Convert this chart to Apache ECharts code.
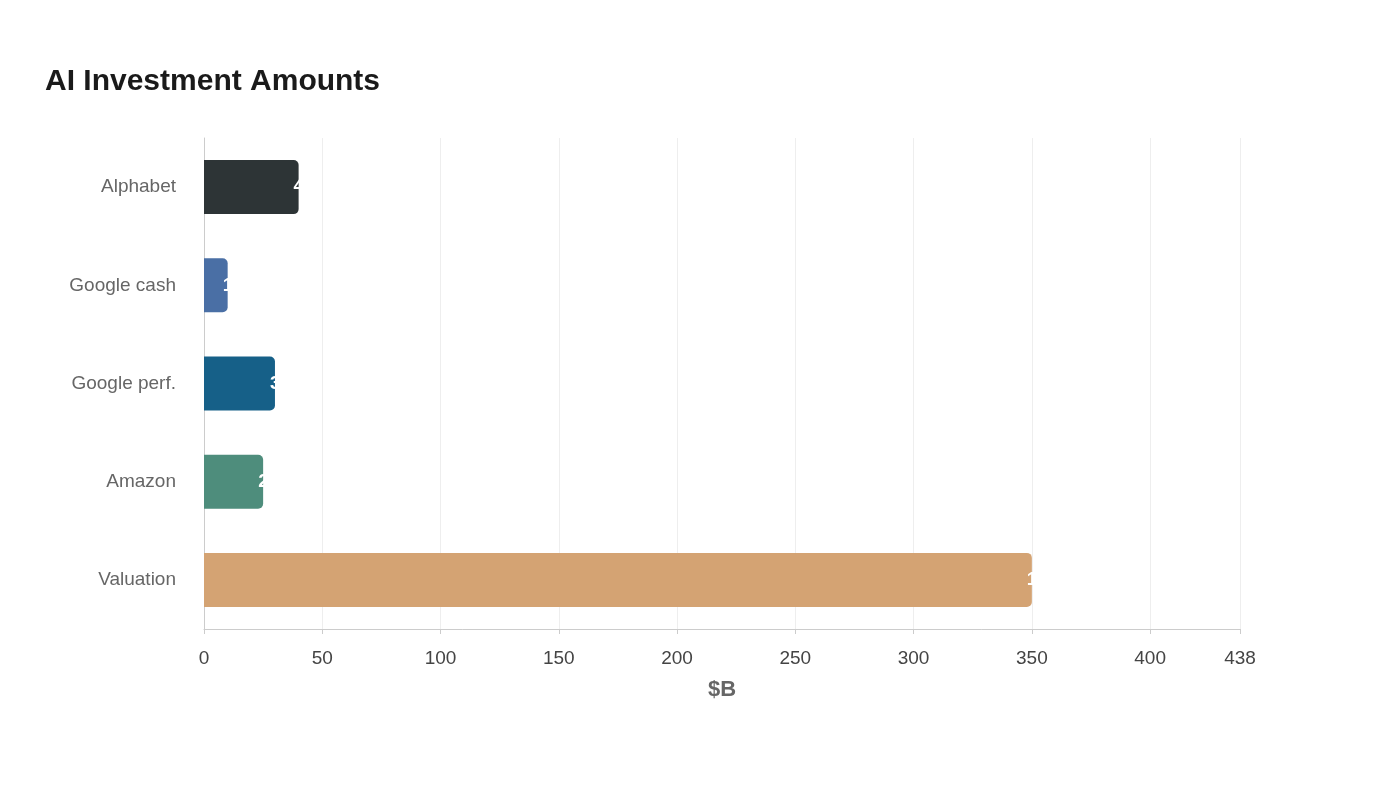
<!DOCTYPE html><html><head><meta charset="utf-8"><script src="https://cdn.jsdelivr.net/npm/echarts@6/dist/echarts.min.js"></script></head><body style="margin:0"><div id="c" style="width:1400px;height:800px"></div><script>
const categories=["Alphabet","Google cash","Google perf.","Amazon","Valuation"];
const values=[40,10,30,25,350];
const labels=["40","10","30","25","1T"];
const colors=["#2d3436","#4a6fa5","#166088","#4e8d7c","#d4a373"];
const c=echarts.init(document.getElementById('c'));
c.setOption({
title:{text:"AI Investment Amounts",left:40,top:62,textStyle:{fontFamily:"Liberation Sans",fontSize:30,fontWeight:"bold",color:"#1a1a1a"}},
grid:{left:204,right:160,top:138,bottom:171},
xAxis:{type:"value",min:0,max:438,interval:50,name:"$B",nameLocation:"middle",nameGap:50,
nameTextStyle:{fontFamily:"Liberation Sans",fontSize:22,fontWeight:"bold",color:"#666"},
axisLine:{show:true,lineStyle:{color:"#ccc"}},axisTick:{show:true,lineStyle:{color:"#ccc"}},
axisLabel:{fontFamily:"Liberation Sans",fontSize:19,color:"#444",margin:20,showMaxLabel:true},
splitLine:{lineStyle:{color:"#eee"}}},
yAxis:{type:"category",inverse:true,data:categories,axisLine:{lineStyle:{color:"#ccc"}},axisTick:{show:false},
axisLabel:{fontFamily:"Liberation Sans",fontSize:19,color:"#666",margin:28}},
series:[{type:"bar",barWidth:"55%",
data:values.map((v,i)=>({value:v,itemStyle:{color:colors[i],borderRadius:[0,5,5,0]}})),
label:{show:true,position:"right",distance:-5,color:"#fff",fontFamily:"Liberation Sans",fontSize:19,fontWeight:"bold",formatter:p=>labels[p.dataIndex]}}]
});
</script></body></html>
